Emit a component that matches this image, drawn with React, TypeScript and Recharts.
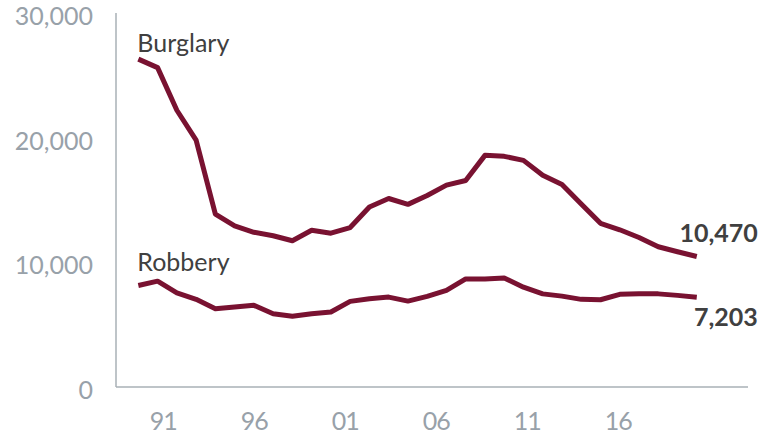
import { LineChart, Line, XAxis, YAxis, LabelList } from 'recharts';

const years = [
  1990, 1991, 1992, 1993, 1994, 1995, 1996, 1997, 1998, 1999,
  2000, 2001, 2002, 2003, 2004, 2005, 2006, 2007, 2008, 2009,
  2010, 2011, 2012, 2013, 2014, 2015, 2016, 2017, 2018, 2019,
];

const burglary = [
  26300, 25620, 22200, 19800, 13870, 12920, 12410, 12130, 11730, 12570,
  12340, 12790, 14440, 15120, 14650, 15360, 16190, 16560, 18580, 18500,
  18180, 16990, 16240, 14680, 13130, 12610, 11990, 11250, 10850, 10470,
];

const robbery = [
  8140, 8490, 7550, 7030, 6280, 6410, 6550, 5880, 5670, 5880,
  6020, 6870, 7080, 7210, 6890, 7270, 7750, 8670, 8670, 8750,
  8010, 7470, 7290, 7030, 7000, 7430, 7470, 7470, 7350, 7203,
];

const yTicks = [0, 10000, 20000, 30000];
const xLabelYears = [1991, 1996, 2001, 2006, 2011, 2016];

const MAROON = '#791231';
const AXIS_GREY = '#a9b0b6';
const TICK_GREY = '#98a1a9';
const TEXT_DARK = '#404040';
const FONT = 'Lato, "Open Sans", sans-serif';

const chartData = years.map((year, i) => ({
  year,
  burglary: burglary[i],
  robbery: robbery[i],
}));

function YTick(props: any) {
  const { x, y, payload } = props;
  return (
    <text x={x} y={y + 12} textAnchor="end" fill={TICK_GREY} fontSize={25} fontFamily={FONT}>
      {Number(payload.value).toLocaleString('en-US')}
    </text>
  );
}

function XTick(props: any) {
  const { x, y, payload } = props;
  const label = String(payload.value % 100).padStart(2, '0');
  return (
    <text x={x} y={y + 35} textAnchor="middle" fill={TICK_GREY} fontSize={25} letterSpacing={-1} fontFamily={FONT}>
      {label}
    </text>
  );
}

// series name at the first point, latest value at the last one
function makeLabel(name: string, nameDy: number, valueDy: number) {
  return (props: any) => {
    const { x, y, index, value } = props;
    if (index === 0) {
      return (
        <text x={x - 1} y={y + nameDy} fill={TEXT_DARK} fontSize={25} fontFamily={FONT}>
          {name}
        </text>
      );
    }
    if (index === years.length - 1) {
      return (
        <text x={x + 61} y={y + valueDy} textAnchor="end" fill={TEXT_DARK} fontSize={25} fontWeight="bold" fontFamily={FONT}>
          {Number(value).toLocaleString('en-US')}
        </text>
      );
    }
    return null;
  };
}

export default function App() {
  return (
    <div style={{ position: 'absolute', left: 0, top: 0, background: '#fff' }}>
      <LineChart width={778} height={435} data={chartData} margin={{ top: 13, right: 30, bottom: 0, left: 0 }}>
        <XAxis xAxisId="data" dataKey="year" type="number" domain={[1988.84, 2021.66]} allowDataOverflow hide height={0} />
        <XAxis
          xAxisId="lbl"
          dataKey="year"
          type="number"
          domain={[1988.4, 2023.13]}
          ticks={xLabelYears}
          allowDataOverflow
          interval={0}
          height={48}
          tickLine={false}
          axisLine={{ stroke: AXIS_GREY, strokeWidth: 1.5 }}
          tick={<XTick />}
        />
        <YAxis
          domain={[0, 30000]}
          ticks={yTicks}
          width={116}
          tickLine={false}
          tickMargin={17}
          axisLine={{ stroke: AXIS_GREY, strokeWidth: 1.5 }}
          tick={<YTick />}
        />
        <Line
          xAxisId="data"
          dataKey="burglary"
          type="linear"
          stroke={MAROON}
          strokeWidth={5}
          strokeLinejoin="round"
          dot={false}
          isAnimationActive={false}
        >
          <LabelList dataKey="burglary" content={makeLabel('Burglary', -7, -14)} />
        </Line>
        <Line
          xAxisId="data"
          dataKey="robbery"
          type="linear"
          stroke={MAROON}
          strokeWidth={5}
          strokeLinejoin="round"
          dot={false}
          isAnimationActive={false}
        >
          <LabelList dataKey="robbery" content={makeLabel('Robbery', -15, 29)} />
        </Line>
      </LineChart>
    </div>
  );
}
